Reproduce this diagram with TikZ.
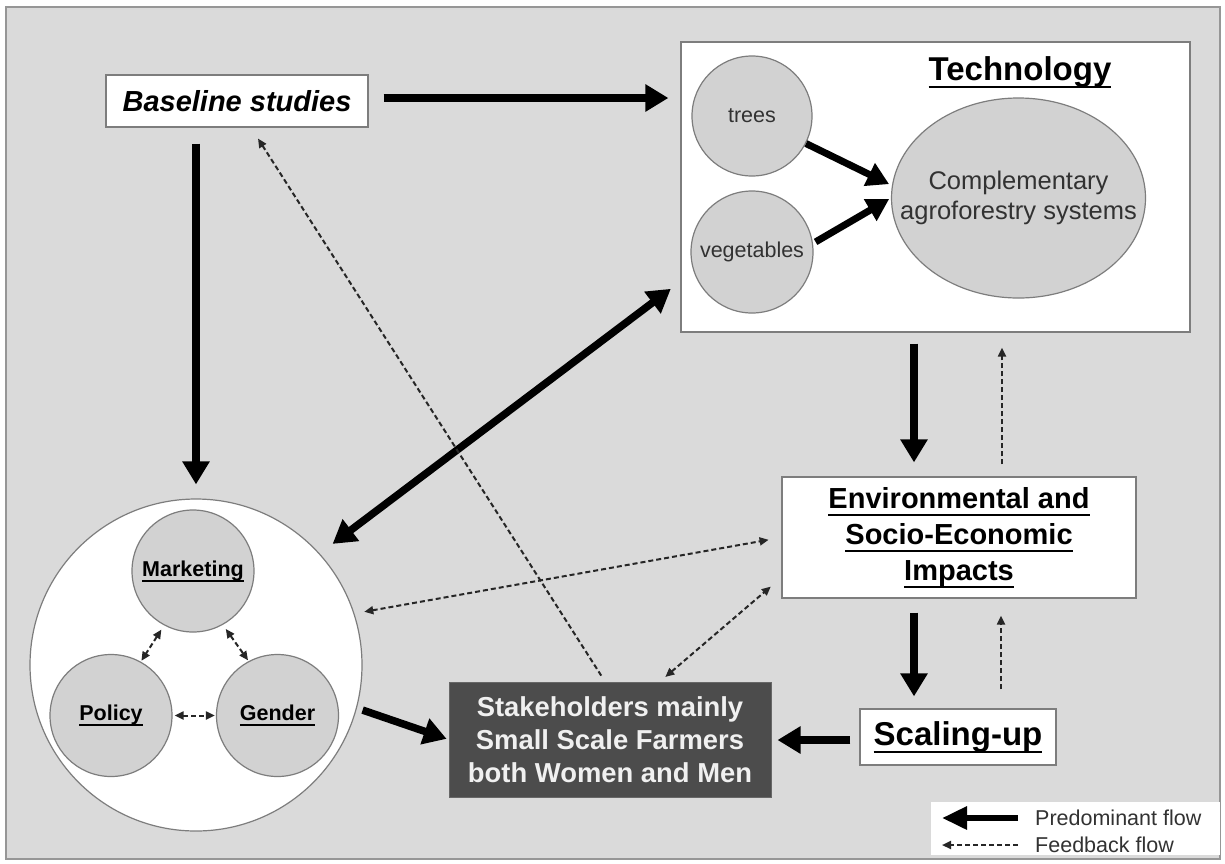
\documentclass[tikz,border=0pt]{standalone}
\usepackage{fontspec}
\setmainfont{Liberation Sans}
\usetikzlibrary{arrows.meta,shapes.geometric,calc}
\newcommand\myul[1]{\setbox0\hbox{#1}\rlap{\usebox0}\rule[\dimexpr-0.21em-1pt\relax]{\wd0}{2pt}}
\definecolor{bgc}{RGB}{218,218,218}
\definecolor{framec}{RGB}{150,150,150}
\definecolor{circfill}{RGB}{210,210,210}
\definecolor{edgec}{RGB}{125,125,125}
\definecolor{darkbox}{RGB}{76,76,76}
\definecolor{txtgray}{RGB}{50,50,50}
\begin{document}
\begin{tikzpicture}[x=1pt,y=-1pt,
  box/.style={draw=edgec, line width=1.2pt, fill=white, inner sep=0pt, align=center},
  circ/.style={circle, draw=edgec, line width=1.2pt, fill=circfill, inner sep=0pt, align=center},
  predom/.style={line width=7.5pt, -{Triangle[length=23pt,width=26pt]}},
  predomboth/.style={line width=7.5pt, {Triangle[length=23pt,width=26pt]}-{Triangle[length=23pt,width=26pt]}},
  feed/.style={line width=2pt, dash pattern=on 5pt off 3pt, draw=black!85, -{Triangle[length=9pt,width=8pt]}},
  feedboth/.style={line width=2pt, dash pattern=on 5pt off 3pt, draw=black!85, {Triangle[length=9pt,width=8pt]}-{Triangle[length=9pt,width=8pt]}},
  small/.style={font=\fontsize{21.5}{26}\selectfont},
  smallb/.style={font=\fontsize{21.5}{26}\selectfont\bfseries},
]
\path[fill=white] (0,0) rectangle (1225,863);
\draw[framec, fill=bgc, line width=1.5pt] (6,7) rectangle (1220,859);

% nodes
\node[box, minimum width=262pt, minimum height=52pt, font=\fontsize{29}{34}\selectfont\bfseries\itshape] (B) at (237,101) {Baseline studies};

\node[box, minimum width=509pt, minimum height=290pt] (T) at (935.5,187) {};
\node[anchor=base, inner sep=0pt, font=\fontsize{33}{38}\selectfont\bfseries] (TT) at (1020,80) {\myul{Technology}};
\node[circ, minimum size=120pt, small, text=txtgray] (tr) at (752,116) {trees};
\node[circ, minimum size=122pt, small, text=txtgray] (vg) at (752,252) {vegetables};
\node[ellipse, draw=edgec, line width=1.2pt, fill=circfill, minimum width=254pt, minimum height=200pt, inner sep=0pt] (C) at (1018.5,198) {};
\node[align=center, inner sep=0pt, text=txtgray, font=\fontsize{25.5}{30}\selectfont] (Ct) at (C.center) {Complementary\\agroforestry systems};

\node[box, minimum width=354pt, minimum height=121pt, font=\fontsize{29}{36}\selectfont\bfseries] (E) at (959,537.5) {\myul{Environmental and}\\\myul{Socio-Economic}\\\myul{Impacts}};

\node[box, minimum width=196pt, minimum height=56pt, font=\fontsize{33}{38}\selectfont\bfseries] (S) at (958,737) {\myul{Scaling-up}};

\node[draw=darkbox!85!white, line width=1pt, fill=darkbox, text=white!94!black, minimum width=322pt, minimum height=115pt, inner sep=0pt, align=center, font=\fontsize{27.4}{33}\selectfont\bfseries] (K) at (610,739.5) {Stakeholders mainly\\Small Scale Farmers\\both Women and Men};

\node[circle, draw=edgec, line width=1.2pt, fill=white, minimum size=332pt] (Big) at (196,665) {};
\node[circ, minimum size=122pt, smallb] (M) at (193,571) {\myul{Marketing}};
\node[circ, minimum size=122pt, smallb] (P) at (111,715.5) {\myul{Policy}};
\node[circ, minimum size=122pt, smallb] (G) at (277.5,715.5) {\myul{Gender}};

% legend
\node[fill=white, minimum width=289pt, minimum height=53pt, inner sep=0pt] (L) at (1075.5,828.5) {};
\node[anchor=west, inner sep=0pt, small, text=txtgray] (L1) at (1035,818) {Predominant flow};
\node[anchor=west, inner sep=0pt, small, text=txtgray] (L2) at (1035,845) {Feedback flow};
\coordinate (l1a) at (1018,818);
\coordinate (l1b) at (942,818);
\coordinate (l2a) at (1018,845);
\coordinate (l2b) at (942,845);
\draw[line width=6pt, -{Triangle[length=25pt,width=22pt]}] (l1a) -- (l1b);
\draw[feed] (l2a) -- (l2b);

% predominant flows
\draw[predom, shorten <=15pt, shorten >=12pt] ([yshift=3pt]B.east) -- ([yshift=3pt]B.east -| T.west);
\draw[predom, shorten <=16pt, shorten >=14pt] (B.south -| Big.north) -- (Big.north);
\draw[predomboth, shorten <=16pt, shorten >=12pt] (Big.42.5) -- ([yshift=51pt]T.south west);
\draw[predom, shorten <=11pt, shorten >=14pt] ([xshift=-45pt]E.north |- T.south) -- ([xshift=-45pt]E.north);
\draw[predom, shorten <=14pt, shorten >=12pt] ([xshift=-45pt]E.south) -- ([xshift=-45pt]E.south |- S.north);
\draw[predom, shorten <=9pt, shorten >=6pt] ([yshift=-3pt]S.west) -- ([yshift=-3pt]S.west -| K.east);
\draw[predom, shorten <=6pt, shorten >=2pt] (Big.-15) -- (K.west);
\draw[line width=7pt, -{Triangle[length=22pt,width=24pt]}, shorten >=2pt] (tr.-27.5) -- ([yshift=13pt]C.west);
\draw[line width=7pt, -{Triangle[length=22pt,width=24pt]}, shorten <=3pt, shorten >=2pt] (vg.8) -- (C.west);

% feedback flows
\draw[feed, shorten <=12pt, shorten >=15pt] ([xshift=43pt]E.north) -- ([xshift=43pt]E.north |- T.south);
\draw[feed, shorten <=19pt, shorten >=17pt] ([xshift=43pt]S.north) -- ([xshift=43pt]S.north |- E.south);
\draw[feedboth, shorten <=10pt, shorten >=13pt] (Big.18) -- (E.west);
\draw[feedboth, shorten <=7pt, shorten >=14pt] ([xshift=50pt]K.north) -- ([yshift=-40pt]E.west);
\draw[feed, shorten <=7pt, shorten >=13pt] ([xshift=-5pt]K.north) -- ([xshift=14pt]B.south);
\draw[feedboth, shorten <=5pt, shorten >=1pt] (M.242) -- (P.61);
\draw[feedboth, shorten <=5pt, shorten >=1pt] (M.299) -- (G.118);
\draw[feedboth, shorten <=2pt, shorten >=1pt] (P.east) -- (G.west);
\end{tikzpicture}
\end{document}
